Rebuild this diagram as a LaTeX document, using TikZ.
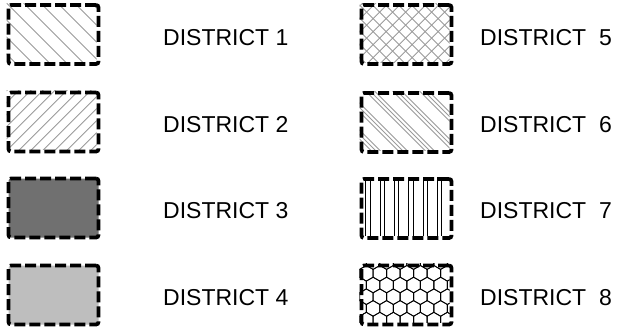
\documentclass[tikz,border=0pt]{standalone}
\usepackage{fontspec}
\setmainfont{Liberation Sans}
\usepackage{tikz}
\usepackage{xcolor}
\usetikzlibrary{backgrounds}

\definecolor{hatchgray}{HTML}{9A9A9A}
\definecolor{darkfill}{HTML}{707070}
\definecolor{lightfill}{HTML}{BEBEBE}

\begin{document}
\begin{tikzpicture}[x=1pt, y=-1pt,
    districtbox/.style={draw=black, line width=3.8pt, dash pattern=on 11pt off 4pt, rounded corners=2.5pt, minimum width=90pt, minimum height=59pt, inner sep=0pt},
    districtlabel/.style={anchor=base west, inner sep=0pt, font=\fontsize{23}{27}\selectfont},
    hatchline/.style={draw=hatchgray, line width=0.8pt},
    blackline/.style={draw=black, line width=0.9pt}]
    \useasboundingbox (0,0) rectangle (629,335);

    \node [districtbox] (d1) at (53.5,34.5) {};
    \node [districtbox] (d2) at (53.5,122) {};
    \node [districtbox, fill=darkfill] (d3) at (53.5,208) {};
    \node [districtbox, fill=lightfill] (d4) at (53.5,295) {};
    \node [districtbox] (d5) at (406.5,34.5) {};
    \node [districtbox] (d6) at (406.5,122.5) {};
    \node [districtbox] (d7) at (406.5,208.5) {};
    \node [districtbox] (d8) at (406.5,295) {};

    \node [districtlabel] (l1) at (163,45) {DISTRICT 1};
    \node [districtlabel] (l2) at (163,132.5) {DISTRICT 2};
    \node [districtlabel] (l3) at (163,218.5) {DISTRICT 3};
    \node [districtlabel] (l4) at (163,305.5) {DISTRICT 4};
    \node [districtlabel] (l5) at (480,45) {DISTRICT\ \ 5};
    \node [districtlabel] (l6) at (480,132.5) {DISTRICT\ \ 6};
    \node [districtlabel] (l7) at (480,218.5) {DISTRICT\ \ 7};
    \node [districtlabel] (l8) at (480,305.5) {DISTRICT\ \ 8};

    % fills behind the dashed borders
    \begin{scope}[on background layer]
        \begin{scope}[shift={(d1.north west)}]
            \clip (0,0) rectangle (90,59);
            \foreach \k in {-68,-51,...,100} \draw[hatchline] (\k,0) -- ++(70,70);
        \end{scope}
        \begin{scope}[shift={(d2.north west)}]
            \clip (0,0) rectangle (90,59);
            \foreach \k in {-70,-58,...,100} \draw[hatchline] (\k,70) -- ++(80,-80);
        \end{scope}
        \begin{scope}[shift={(d5.north west)}]
            \clip (0,0) rectangle (90,59);
            \foreach \k in {-80,-67,...,100} {
                \draw[hatchline] (\k,0) -- ++(70,70);
                \draw[hatchline] (\k,70) -- ++(80,-80);
            }
        \end{scope}
        \begin{scope}[shift={(d6.north west)}]
            \clip (0,0) rectangle (90,59);
            \foreach \k in {-75,-48,...,100}
                \foreach \d in {0,4.5,9} \draw[hatchline] (\k+\d,0) -- ++(70,70);
        \end{scope}
        \begin{scope}[shift={(d7.north west)}]
            \clip (0,0) rectangle (90,59);
            \foreach \k in {6.3,20.6,...,90} {
                \draw[blackline] (\k,0) -- (\k,59);
                \draw[blackline] (\k+4.3,0) -- (\k+4.3,59);
            }
        \end{scope}
        \begin{scope}[shift={(d8.north west)}]
            \clip (0,0) rectangle (90,59);
            \foreach \r in {0,...,6}
                \foreach \c in {-1,...,7} {
                    \pgfmathsetmacro{\cx}{\c*13.5+mod(\r,2)*6.75}
                    \pgfmathsetmacro{\cy}{\r*11.7-2}
                    \draw[blackline, line width=0.8pt] (\cx,\cy) +(30:7.8) -- +(90:7.8) -- +(150:7.8) -- +(210:7.8) -- +(270:7.8) -- +(330:7.8) -- cycle;
                }
        \end{scope}
    \end{scope}
\end{tikzpicture}
\end{document}
